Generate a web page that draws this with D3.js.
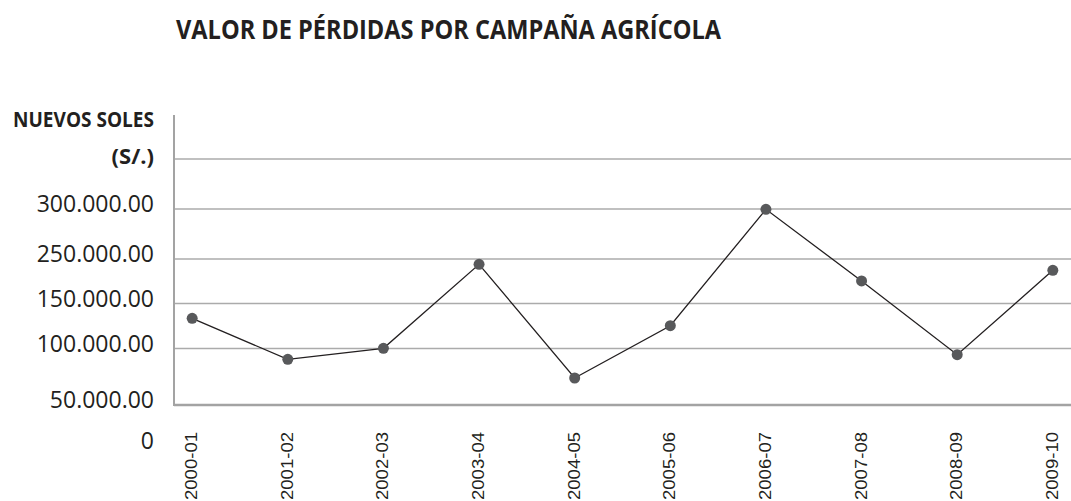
<!DOCTYPE html>
<html>
<head>
<meta charset="utf-8">
<script src="https://cdn.jsdelivr.net/npm/d3@7"></script>
<style>
  html, body { margin: 0; padding: 0; background: #fff; }
  svg { display: block; }
  text { fill: #231f20; }
</style>
</head>
<body>
<svg id="chart"></svg>
<script>
const SEASONS = ["2000-01","2001-02","2002-03","2003-04","2004-05",
                 "2005-06","2006-07","2007-08","2008-09","2009-10"];
const LOSSES = [133500, 90400, 100200, 238000, 73900,
                125300, 299700, 200600, 94500, 224600];

// tick values as printed on the original (it skips 200.000)
const Y_BREAKS = [0, 50000, 100000, 150000, 250000, 300000, 350000];
const Y_LABELS = [0, 50000, 100000, 150000, 250000, 300000];
const Y_GRID = [100000, 150000, 250000, 300000, 350000];

const TITLE = "VALOR DE PÉRDIDAS POR CAMPAÑA AGRÍCOLA";

const W = 1071, H = 501;
const X0 = 174, X1 = 1071;

const svg = d3.select("#chart").attr("width", W).attr("height", H);

const x = d3.scalePoint().domain(SEASONS).range([X0, X1]).padding(0.19);

// the original axis is not evenly spaced, so the scale is piecewise
const y = d3.scaleLinear()
  .domain(Y_BREAKS)
  .range([446, 405, 348.5, 303.5, 259, 209, 159]);

const fmt = d3.formatLocale({ decimal: ".", thousands: ".", grouping: [3], currency: ["", ""] })
  .format(",.2f");

// title
svg.append("text")
  .attr("x", 176).attr("y", 39)
  .attr("font-family", "Open Sans, sans-serif")
  .attr("font-weight", 700).attr("font-size", 27)
  .attr("textLength", 545).attr("lengthAdjust", "spacingAndGlyphs")
  .text(TITLE);

// axis title
svg.append("text")
  .attr("x", 154).attr("y", 127).attr("text-anchor", "end")
  .attr("font-family", "Open Sans, sans-serif")
  .attr("font-weight", 700).attr("font-size", 21.5)
  .attr("textLength", 141).attr("lengthAdjust", "spacingAndGlyphs")
  .text("NUEVOS SOLES");
svg.append("text")
  .attr("x", 154).attr("y", 164).attr("text-anchor", "end")
  .attr("font-family", "Open Sans, sans-serif")
  .attr("font-weight", 700).attr("font-size", 22)
  .text("(S/.)");

// grid
svg.append("g").selectAll("line").data(Y_GRID).join("line")
  .attr("x1", X0).attr("x2", X1)
  .attr("y1", d => y(d)).attr("y2", d => y(d))
  .attr("stroke", "#ababab").attr("stroke-width", 1.5);

// axes
svg.append("line")
  .attr("x1", X0).attr("x2", X1)
  .attr("y1", y(50000)).attr("y2", y(50000))
  .attr("stroke", "#a3a3a3").attr("stroke-width", 2.5);
svg.append("line")
  .attr("x1", X0).attr("x2", X0)
  .attr("y1", 115).attr("y2", y(50000) + 1)
  .attr("stroke", "#a3a3a3").attr("stroke-width", 2);

// y labels
svg.append("g").selectAll("text").data(Y_LABELS).join("text")
  .attr("x", 154).attr("y", d => y(d) + 3)
  .attr("text-anchor", "end")
  .attr("font-family", "Open Sans, sans-serif")
  .attr("font-size", 23)
  .text(d => d === 0 ? "0" : fmt(d));

// x labels
svg.append("g").selectAll("text").data(SEASONS).join("text")
  .attr("transform", d => "translate(" + (x(d) + 5) + ",432) rotate(-90)")
  .attr("text-anchor", "end")
  .attr("font-family", "Liberation Sans, Arial, sans-serif")
  .attr("font-size", 17)
  .attr("textLength", 68).attr("lengthAdjust", "spacingAndGlyphs")
  .text(d => d);

// series
const line = d3.line()
  .x((d, i) => x(SEASONS[i]))
  .y(d => y(d));

svg.append("path")
  .datum(LOSSES)
  .attr("d", line)
  .attr("fill", "none")
  .attr("stroke", "#231f20").attr("stroke-width", 1.3);

svg.append("g").selectAll("circle").data(LOSSES).join("circle")
  .attr("cx", (d, i) => x(SEASONS[i]))
  .attr("cy", d => y(d))
  .attr("r", 5.5)
  .attr("fill", "#58595b");
</script>
</body>
</html>
